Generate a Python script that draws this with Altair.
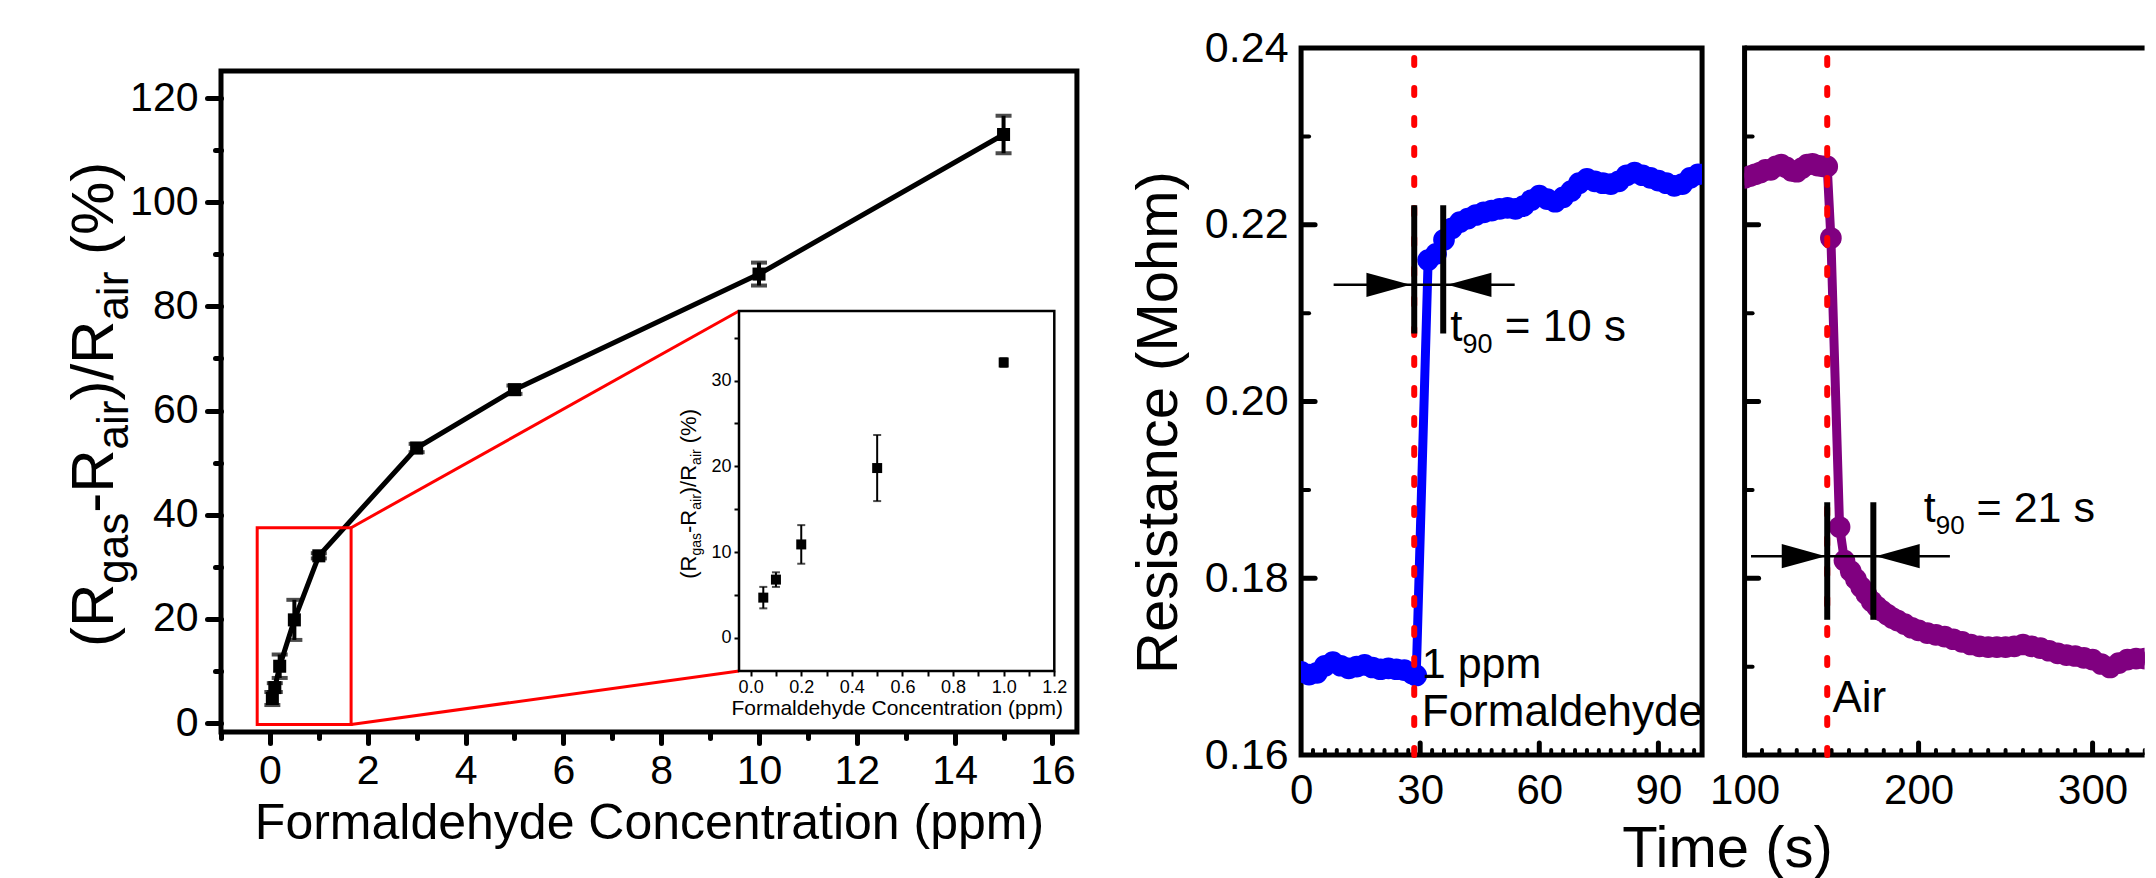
import altair as alt
import pandas as pd

FONT = "Liberation Sans"

# ---------------- data: sensitivity ----------------
conc = [0.05, 0.1, 0.2, 0.5, 1, 3, 5, 10, 15]
resp = [4.7, 6.8, 10.9, 19.8, 32.1, 52.8, 64.0, 86.2, 113.0]
resp_err = [1.25, 0.85, 2.25, 3.85, 0.5, 0.8, 0.8, 2.2, 3.6]
inset_count = 5  # first five points are repeated in the inset

main_x_ticks = list(range(-1, 17))
main_y_ticks = list(range(0, 130, 10))
inset_x_ticks = [0.0, 0.1, 0.2, 0.3, 0.4, 0.5, 0.6, 0.7, 0.8, 0.9, 1.0, 1.1, 1.2]
inset_y_ticks = [0, 5, 10, 15, 20, 25, 30, 35]

# ---------------- data: response / recovery ----------------
t_gas = [0, 2, 4, 6, 8, 10, 12, 14, 16, 18, 20, 22, 24, 26, 28, 29,
         32, 34, 36, 38, 40, 42, 44, 46, 48, 50, 52, 54, 56, 58, 60, 62, 64,
         66, 68, 70, 72, 74, 76, 78, 80, 82, 84, 86, 88, 90, 92, 94, 96, 98, 100, 102]
r_gas = [0.1694, 0.1691, 0.1693, 0.1701, 0.1705, 0.1701, 0.1698, 0.1700, 0.1702,
         0.1699, 0.1697, 0.1698, 0.1697, 0.1696, 0.1692, 0.1690,
         0.2160, 0.2167, 0.2183, 0.2196, 0.2203, 0.2207, 0.2211, 0.2214, 0.2216,
         0.2218, 0.2219, 0.2218, 0.2221, 0.2228, 0.2233, 0.2229, 0.2226,
         0.2231, 0.2238, 0.2247, 0.2252, 0.2249, 0.2247, 0.2246, 0.2249, 0.2256,
         0.2259, 0.2256, 0.2253, 0.2250, 0.2247, 0.2244, 0.2246, 0.2253, 0.2257, 0.2258]

t_air = [100, 103, 106, 109, 112, 115, 118, 121, 124, 127, 130, 133, 136, 139, 142, 145, 147.5,
         149.6, 154.6, 157.4, 161, 164, 167, 170, 173, 176, 179, 182, 185, 188, 192, 196,
         200, 205, 210, 215, 220, 225, 230, 235, 240, 245, 250, 255, 260, 265, 270, 275,
         280, 285, 290, 295, 300, 305, 310, 315, 320, 325, 330, 335, 340, 345]
r_air = [0.2253, 0.2255, 0.2257, 0.2259, 0.2262, 0.2262, 0.2266, 0.2268, 0.2265, 0.2261,
         0.2260, 0.2264, 0.2268, 0.2269, 0.2267, 0.2266, 0.2266,
         0.2185, 0.1858, 0.1820, 0.1808, 0.1799, 0.1790, 0.1782, 0.1774, 0.1768, 0.1763,
         0.1759, 0.1755, 0.1752, 0.1748, 0.1744,
         0.1741, 0.1738, 0.1736, 0.1734, 0.1731, 0.1728, 0.1725, 0.1723, 0.1722, 0.1722,
         0.1722, 0.1723, 0.1725, 0.1723, 0.1721, 0.1718,
         0.1715, 0.1713, 0.1712, 0.1710, 0.1708, 0.1703, 0.1699, 0.1704, 0.1708, 0.1709,
         0.1709, 0.1710, 0.1710, 0.1711]

gas_on = 28.5
gas_off = 147.5

p2_x_labels = [0, 30, 60, 90]
p2_x_minor = [v for v in range(3, 100, 3) if v % 30]
p3_x_labels = [100, 200, 300]
p3_x_minor = [v for v in range(110, 400, 10) if v % 100]
r_y_labels = [0.16, 0.18, 0.20, 0.22, 0.24]
r_y_major = [0.18, 0.20, 0.22]
r_y_minor = [0.17, 0.19, 0.21, 0.23]

# ---------------- geometry (page pixels) ----------------
VIEW_TOP = 47.0
L_LEFT = 220.0
X1 = [-1, 16.5]
L_PXU = 48.91
L_W = L_PXU * (X1[1] - X1[0])
L_ZERO = 722.0          # pixel row of y = 0 in the left panel
L_PYU = 5.208           # pixels per y unit
L_FRAME_TOP = 70.0
L_BOTTOM = 731.0
L_H = L_BOTTOM - VIEW_TOP
Y1 = [-(L_BOTTOM - L_ZERO) / L_PYU, (L_ZERO - VIEW_TOP) / L_PYU]
Y1_FRAME_TOP = (L_ZERO - L_FRAME_TOP) / L_PYU

IX = [-0.046, 1.2]
IY = [-3.85, 38.1]
INS_L, INS_R = 738.0 - L_LEFT, 1053.3 - L_LEFT
INS_T, INS_B = 310.0 - VIEW_TOP, 670.0 - VIEW_TOP

P2_LEFT = 1300.0
GAP1 = P2_LEFT - (L_LEFT + L_W)
R_H = 707
P2_W = 401
X2 = [0, 101]
GAP2 = 42.5
P3_W = 400
P3_PPS = 1.74
X3 = [100, 100 + P3_W / P3_PPS]
YR = [0.16, 0.24]

AW = {'(': 333, ')': 333, 'R': 722, 'g': 556, 'a': 556, 's': 500, '-': 333, 'i': 222,
      'r': 333, '/': 278, ' ': 278, '%': 889, 't': 278, '=': 584, '.': 278}


def tw(s, fs):
    return sum(AW.get(c, 556) for c in s) / 1000.0 * fs


def L(chart, xs, ys, xax, yax, x='x', y='y', **extra):
    return chart.encode(x=alt.X(f'{x}:Q', scale=xs, axis=xax),
                        y=alt.Y(f'{y}:Q', scale=ys, axis=yax), **extra)


def rich(xv, yv, pieces, xs, ys, xax, yax, angle=0):
    out = []
    adv = 0.0
    for txt, fs, shift in pieces:
        lead = len(txt) - len(txt.lstrip(' '))
        adv += tw(' ' * lead, fs)
        body = txt.lstrip(' ')
        df = pd.DataFrame({'x': [xv], 'y': [yv], 't': [body]})
        m = alt.Chart(df).mark_text(align='left', baseline='alphabetic', fontSize=fs, font=FONT,
                                    angle=angle, dx=adv, dy=shift, color='black')
        out.append(L(m, xs, ys, xax, yax, text='t:N'))
        adv += tw(body, fs)
    return out


def seg(x, x2, y, y2):
    return pd.DataFrame({'x': [x], 'x2': [x2], 'y': [y], 'y2': [y2]})


def frame(A, x, x2, y, y2, width=5):
    return L(alt.Chart(seg(x, x2, y, y2)).mark_rect(fillOpacity=0, stroke='black', strokeWidth=width),
             **A, x2='x2:Q', y2='y2:Q')


ARROW_R = "M-1,-0.55L1,0L-1,0.55Z"
ARROW_L = "M1,-0.55L-1,0L1,0.55Z"

# ================= left panel =================
xs1 = alt.Scale(domain=X1, nice=False, zero=False)
ys1 = alt.Scale(domain=Y1, nice=False, zero=False)
ax1x = alt.Axis(values=main_x_ticks, labelExpr="datum.value % 2 === 0 ? datum.label : ''",
                tickSize={"condition": {"test": "datum.value % 2 === 0", "value": 11}, "value": 6},
                tickWidth=5, tickCap='round', tickColor='black', domain=False, grid=False,
                labelFontSize=41, labelPadding=8, labelFlush=False, labelOverlap=False,
                title='Formaldehyde Concentration (ppm)', titleFontSize=50, titlePadding=7,
                titleFontWeight='normal')
ax1y = alt.Axis(values=main_y_ticks, labelExpr="datum.value % 20 === 0 ? datum.label : ''",
                tickSize={"condition": {"test": "datum.value % 20 === 0", "value": 14}, "value": 6},
                tickWidth=5, tickCap='round', tickColor='black', domain=False, grid=False,
                labelFontSize=41, labelPadding=9, labelFlush=False, labelOverlap=False, title=None)

main_df = pd.DataFrame({'x': conc, 'y': resp,
                        'lo': [r - e for r, e in zip(resp, resp_err)],
                        'hi': [r + e for r, e in zip(resp, resp_err)]})
inset_df = main_df.iloc[:inset_count]

A1 = dict(xs=xs1, ys=ys1, xax=ax1x, yax=ax1y)

ins_x_main = X1[0] + INS_L / L_PXU
ins_yt_main = Y1[1] - INS_T / L_PYU
ins_yb_main = Y1[1] - INS_B / L_PYU
box = (-0.26, 1.66, -0.3, 37.5)

# invisible anchor at the page's top-left content corner (keeps the layout origin fixed)
anc_x = X1[0] - (L_LEFT - 8) / L_PXU
anc_y = Y1[1] + (VIEW_TOP - 8) / L_PYU

main_layers = [
    L(alt.Chart(seg(anc_x, anc_x, anc_y, anc_y - 2)).mark_rule(color='black', opacity=0, strokeWidth=1),
      **A1, y2='y2:Q'),
    frame(A1, X1[0], X1[1], Y1[0], Y1_FRAME_TOP),
    L(alt.Chart(main_df).mark_line(color='black', strokeWidth=5), **A1),
    L(alt.Chart(main_df).mark_rule(color='black', strokeWidth=4), **A1, y='lo', y2='hi:Q'),
    L(alt.Chart(main_df).mark_tick(orient='horizontal', size=16, thickness=4, color='black'), **A1, y='lo'),
    L(alt.Chart(main_df).mark_tick(orient='horizontal', size=16, thickness=4, color='black'), **A1, y='hi'),
    L(alt.Chart(main_df).mark_square(size=170, color='black', opacity=1), **A1),
    L(alt.Chart(seg(box[0], box[1], box[2], box[3])).mark_rect(fillOpacity=0, stroke='red', strokeWidth=3),
      **A1, x2='x2:Q', y2='y2:Q'),
    L(alt.Chart(seg(box[1], ins_x_main, box[3], ins_yt_main)).mark_rule(color='red', strokeWidth=3),
      **A1, x2='x2:Q', y2='y2:Q'),
    L(alt.Chart(seg(box[1], ins_x_main, box[2], ins_yb_main)).mark_rule(color='red', strokeWidth=3),
      **A1, x2='x2:Q', y2='y2:Q'),
]
main_layers += rich(X1[0] - (L_LEFT - 112) / L_PXU, (L_ZERO - 646) / L_PYU,
                    [("(R", 60, 0), ("gas", 44, 15), ("-R", 60, 0), ("air", 44, 15),
                     (")/R", 60, 0), ("air", 44, 15), (" (%)", 60, 0)],
                    angle=270, **A1)

# inset
xsi = alt.Scale(domain=IX, range=[INS_L, INS_R], nice=False, zero=False)
ysi = alt.Scale(domain=IY, range=[INS_B, INS_T], nice=False, zero=False)
axix = alt.Axis(orient='bottom', offset=INS_B - L_H, values=inset_x_ticks, format='.1f',
                labelExpr="round(datum.value * 10) % 2 === 0 ? datum.label : ''",
                tickSize=5, tickWidth=2, tickColor='black', domain=False, grid=False,
                labelFontSize=18, labelPadding=2, labelFlush=False, labelOverlap=False,
                title='Formaldehyde Concentration (ppm)', titleFontSize=21, titlePadding=1,
                titleFontWeight='normal')
axiy = alt.Axis(orient='left', offset=-INS_L, values=inset_y_ticks,
                labelExpr="datum.value % 10 === 0 ? datum.label : ''",
                tickSize=5, tickWidth=2, tickColor='black', domain=False, grid=False,
                labelFontSize=18, labelPadding=3, labelFlush=False, labelOverlap=False, title=None)
AI = dict(xs=xsi, ys=ysi, xax=axix, yax=axiy)
inset_layers = [
    L(alt.Chart(seg(IX[0], IX[1], IY[0], IY[1])).mark_rect(fill='white', stroke='black', strokeWidth=2.5),
      **AI, x2='x2:Q', y2='y2:Q'),
    L(alt.Chart(inset_df).mark_rule(color='black', strokeWidth=2), **AI, y='lo', y2='hi:Q'),
    L(alt.Chart(inset_df).mark_tick(orient='horizontal', size=8, thickness=2, color='black'), **AI, y='lo'),
    L(alt.Chart(inset_df).mark_tick(orient='horizontal', size=8, thickness=2, color='black'), **AI, y='hi'),
    L(alt.Chart(inset_df).mark_square(size=100, color='black', opacity=1), **AI),
]
inset_layers += rich(-0.216, 6.9,
                     [("(R", 22, 0), ("gas", 14, 5), ("-R", 22, 0), ("air", 14, 5),
                      (")/R", 22, 0), ("air", 14, 5), (" (%)", 22, 0)],
                     angle=270, **AI)

left = alt.layer(alt.layer(*main_layers), alt.layer(*inset_layers)).resolve_scale(
    x='independent', y='independent').properties(width=L_W, height=L_H)

# ================= panel 2 (response) =================
pp2x = P2_W / (X2[1] - X2[0])
ppy = R_H / (YR[1] - YR[0])
xs2 = alt.Scale(domain=X2, nice=False, zero=False)
ysr = alt.Scale(domain=YR, nice=False, zero=False)
ax2x = alt.Axis(values=p2_x_labels, ticks=False, domain=False, grid=False, labelFontSize=42,
                labelPadding=15, labelFlush=False, labelOverlap=False,
                title='Time (s)', titleFontSize=58, titleFontWeight='normal',
                titleX=1726 - P2_LEFT, titleY=111, titleAlign='center', titleBaseline='alphabetic')
ax2y = alt.Axis(values=r_y_labels, format='.2f', ticks=False, domain=False, grid=False,
                labelFontSize=43, labelPadding=13, labelFlush=False, labelOverlap=False,
                title='Resistance (Mohm)', titleFontSize=58, titleFontWeight='normal',
                titleX=1175 - P2_LEFT, titleY=421 - VIEW_TOP, titleAngle=270, titleAlign='center',
                titleBaseline='alphabetic')
A2 = dict(xs=xs2, ys=ysr, xax=ax2x, yax=ax2y)


def tick_layers(A, xminor, xmajor, pps, x0):
    lay = []
    lay.append(L(alt.Chart(pd.DataFrame({'x': xminor, 'y': YR[0], 'y2': YR[0] + 5 / ppy}))
                 .mark_rule(color='black', strokeWidth=4, strokeCap='round', clip=True), **A, y2='y2:Q'))
    lay.append(L(alt.Chart(pd.DataFrame({'x': xmajor, 'y': YR[0], 'y2': YR[0] + 12 / ppy}))
                 .mark_rule(color='black', strokeWidth=5, strokeCap='round', clip=True), **A, y2='y2:Q'))
    lay.append(L(alt.Chart(pd.DataFrame({'y': r_y_minor, 'x': x0, 'x2': x0 + 8 / pps}))
                 .mark_rule(color='black', strokeWidth=4, strokeCap='round', clip=True), **A, x2='x2:Q'))
    lay.append(L(alt.Chart(pd.DataFrame({'y': r_y_major, 'x': x0, 'x2': x0 + 14 / pps}))
                 .mark_rule(color='black', strokeWidth=5, strokeCap='round', clip=True), **A, x2='x2:Q'))
    return lay


gas_df = pd.DataFrame({'x': t_gas, 'y': r_gas})
p2_layers = [frame(A2, X2[0], X2[1], YR[0], YR[1])]
p2_layers += tick_layers(A2, p2_x_minor, [30, 60, 90], pp2x, X2[0])
p2_layers += [
    L(alt.Chart(gas_df).mark_line(color='#0000FF', strokeWidth=9, clip=True), **A2),
    L(alt.Chart(gas_df).mark_circle(color='#0000FF', size=470, opacity=1, clip=True), **A2),
    L(alt.Chart(pd.DataFrame({'x': [gas_on], 'y': [YR[0]], 'y2': [YR[1]]}))
      .mark_rule(color='#FF0000', strokeWidth=6, strokeDash=[7, 23], strokeCap='round'), **A2, y2='y2:Q'),
    L(alt.Chart(pd.DataFrame({'x': [28.5, 35.8], 'y': [0.2077] * 2, 'y2': [0.2222] * 2}))
      .mark_rule(color='black', strokeWidth=6), **A2, y2='y2:Q'),
    L(alt.Chart(seg(8.2, 53.8, 0.2132, 0.2132)).mark_rule(color='black', strokeWidth=2.5),
      **A2, x2='x2:Q'),
    L(alt.Chart(pd.DataFrame({'x': [22.0], 'y': [0.2132]}))
      .mark_point(shape=ARROW_R, size=1936, filled=True, color='black', opacity=1), **A2),
    L(alt.Chart(pd.DataFrame({'x': [42.4], 'y': [0.2132]}))
      .mark_point(shape=ARROW_L, size=1936, filled=True, color='black', opacity=1), **A2),
]
p2_layers += rich(37.6, 0.2068, [("t", 44, 0), ("90", 27, 12), (" = 10 s", 44, 0)], **A2)
p2_layers += rich(30.4, 0.1687, [("1 ppm", 43, 0)], **A2)
p2_layers += rich(30.4, 0.1633, [("Formaldehyde", 44, 0)], **A2)
p2 = alt.layer(*p2_layers).properties(width=P2_W, height=R_H)

# ================= panel 3 (recovery) =================
xs3 = alt.Scale(domain=X3, nice=False, zero=False)
ax3x = alt.Axis(values=p3_x_labels, ticks=False, domain=False, grid=False, labelFontSize=42,
                labelPadding=15, labelFlush=False, labelOverlap=False, title=None)
A3 = dict(xs=xs3, ys=ysr, xax=ax3x, yax=None)
air_df = pd.DataFrame({'x': t_air, 'y': r_air})
p3_layers = [
    # open frame: the panel runs off the right edge of the figure
    L(alt.Chart(pd.DataFrame({'x': [X3[0], X3[0]], 'x2': [X3[1], X3[1]], 'y': YR}))
      .mark_rule(color='black', strokeWidth=5), **A3, x2='x2:Q'),
    L(alt.Chart(seg(X3[0], X3[0], YR[0], YR[1])).mark_rule(color='black', strokeWidth=5, strokeCap='square'),
      **A3, y2='y2:Q'),
]
p3_layers += tick_layers(A3, p3_x_minor, [200, 300], P3_PPS, X3[0])
p3_layers += [
    L(alt.Chart(air_df).mark_line(color='#800080', strokeWidth=9, clip=True), **A3),
    L(alt.Chart(air_df).mark_circle(color='#800080', size=470, opacity=1, clip=True), **A3),
    L(alt.Chart(pd.DataFrame({'x': [gas_off], 'y': [YR[0]], 'y2': [YR[1]]}))
      .mark_rule(color='#FF0000', strokeWidth=6, strokeDash=[7, 23], strokeCap='round'), **A3, y2='y2:Q'),
    L(alt.Chart(pd.DataFrame({'x': [147.5, 174.0], 'y': [0.1753] * 2, 'y2': [0.1886] * 2}))
      .mark_rule(color='black', strokeWidth=6), **A3, y2='y2:Q'),
    L(alt.Chart(seg(103.7, 218.0, 0.1825, 0.1825)).mark_rule(color='black', strokeWidth=2.5),
      **A3, x2='x2:Q'),
    L(alt.Chart(pd.DataFrame({'x': [134.0], 'y': [0.1825]}))
      .mark_point(shape=ARROW_R, size=1936, filled=True, color='black', opacity=1), **A3),
    L(alt.Chart(pd.DataFrame({'x': [188.0], 'y': [0.1825]}))
      .mark_point(shape=ARROW_L, size=1936, filled=True, color='black', opacity=1), **A3),
]
p3_layers += rich(203.0, 0.1864, [("t", 43, 0), ("90", 26, 12), (" = 21 s", 43, 0)], **A3)
p3_layers += rich(150.5, 0.1649, [("Air", 44, 0)], **A3)
p3 = alt.layer(*p3_layers).properties(width=P3_W, height=R_H)

right = alt.hconcat(p2, p3, spacing=GAP2, bounds='flush')
chart = alt.hconcat(left, right, spacing=GAP1, bounds='flush').properties(
    padding={"left": 0, "top": 0, "right": 0, "bottom": 0}
).configure(font=FONT).configure_view(stroke='transparent').configure_axis(
    labelFont=FONT, titleFont=FONT, labelColor='black', titleColor='black')

chart.save("out.html", embed_options={"renderer": "svg", "actions": False})
